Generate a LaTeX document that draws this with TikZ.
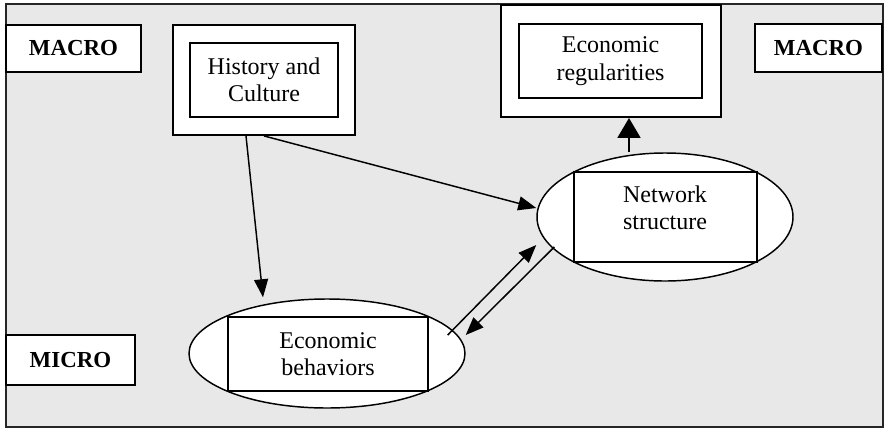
\documentclass[tikz,border=0pt]{standalone}
\usepackage{fontspec}
\setmainfont{Liberation Serif}
\usetikzlibrary{shapes.geometric,arrows.meta,calc}

\begin{document}
\begin{tikzpicture}[x=0.75pt,y=0.75pt,yscale=-1,
  frame/.style={draw=black!85,line width=1.5pt,fill=black!9},
  levelbox/.style={draw,line width=1.4pt,fill=white,inner sep=0pt,font=\fontsize{17.2}{20}\selectfont\bfseries},
  outerbox/.style={draw,line width=1.4pt,fill=white,inner sep=0pt},
  innerbox/.style={draw,line width=1.4pt,fill=white,inner sep=0pt,align=center,font=\fontsize{18}{20.5}\selectfont},
  oval/.style={draw,ellipse,line width=1.1pt,fill=white,inner sep=0pt},
  lbl/.style={align=center,inner sep=0pt,font=\fontsize{18}{20.5}\selectfont},
  link/.style={line width=1.1pt,-{Triangle[length=13.5pt,width=10.5pt]}},
  biglink/.style={line width=2.2pt,-{Triangle[length=15pt,width=17pt]}}]
\useasboundingbox (0,0) rectangle (886,429);

% Frame
\draw[frame] (6,4) rectangle (883,427);

% Level Nodes
\node[levelbox,minimum width=101.25pt,minimum height=35.25pt] (macroleft) at (73.5,48.5) {MACRO};
\node[levelbox,minimum width=95.25pt,minimum height=36pt] (macroright) at (818.5,48) {MACRO};
\node[levelbox,minimum width=96.75pt,minimum height=37.5pt] (micro) at (70.5,360) {MICRO};

% History and Culture
\node[outerbox,minimum width=136.5pt,minimum height=82.5pt] (histout) at (264,80) {};
\node[innerbox,minimum width=111pt,minimum height=55.5pt] (hist) at (264,80) {History and\\Culture};

% Economic regularities
\node[outerbox,minimum width=165pt,minimum height=84pt] (regout) at (611,61) {};
\node[innerbox,minimum width=137.25pt,minimum height=55.5pt] (reg) at (610.5,61) {Economic\\regularities};

% Network structure
\node[oval,minimum width=192pt,minimum height=96pt] (net) at (665,217) {};
\node[innerbox,minimum width=137.25pt,minimum height=67.5pt] (netbox) at (665.5,217) {};
\node[lbl] (nettxt) at (665,208) {Network\\structure};

% Economic behaviors
\node[oval,minimum width=207pt,minimum height=81.75pt] (beh) at (327,353.5) {};
\node[innerbox,minimum width=150pt,minimum height=55.5pt] (behbox) at (328,354) {Economic\\behaviors};

% Connection
\draw[link] ($(histout.south)+(-18,0)$) -- ($(beh.north)+(-64,-1)$);
% Connection
\draw[link] (histout.south) -- ($(net.west)+(0,-9)$);
% Connection
\draw[link] ($(beh.east)+(-18,-18.5)$) -- ($(net.west)+(0,28)$);
% Connection
\draw[link] ($(net.west)+(18,30)$) -- ($(beh.east)+(0,-18.5)$);
% Connection
\coordinate (nettop) at ($(net.north)+(-36,0)$);
\draw[biglink] (nettop) -- (nettop |- regout.south);

\end{tikzpicture}
\end{document}
